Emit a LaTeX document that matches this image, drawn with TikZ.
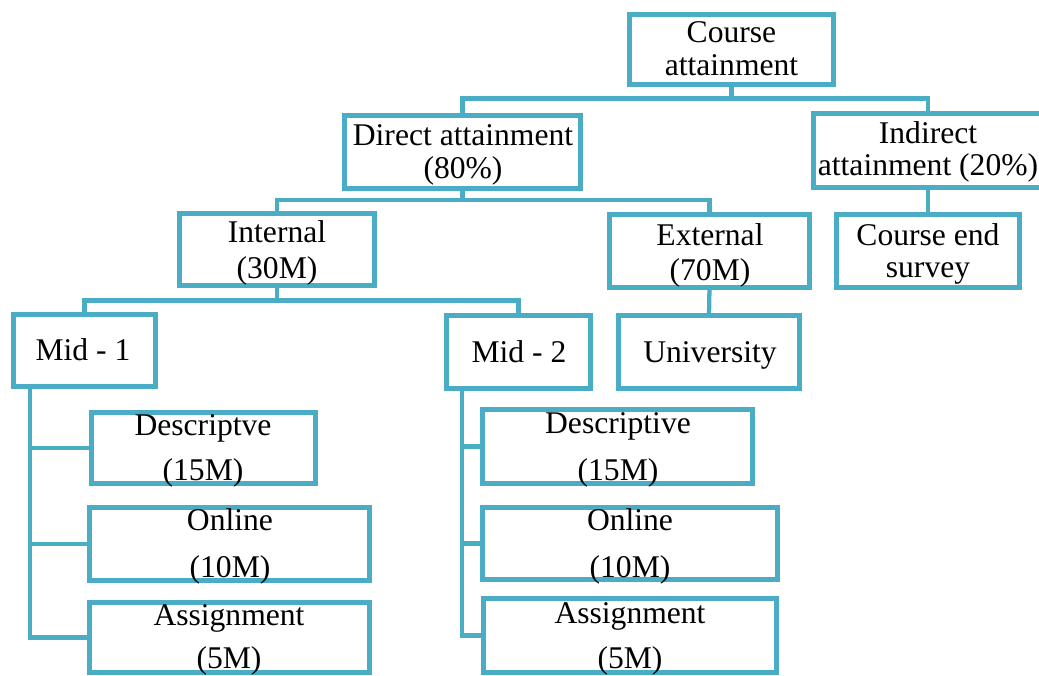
\documentclass[tikz,border=0pt]{standalone}
\usepackage{fontspec}
\setmainfont{Liberation Serif}
\usetikzlibrary{calc}
\definecolor{aqua}{RGB}{75,172,198}
\tikzset{
  box/.style 2 args={draw=aqua, line width=3.75pt, fill=white, inner sep=0pt, outer sep=0pt,
     minimum width=#1*0.75pt, minimum height=#2*0.75pt},
  txt/.style={anchor=base, align=center, inner sep=0pt, font=\fontsize{23.7}{24.75}\selectfont},
  conn/.style={draw=aqua, line width=3.2pt}
}
\begin{document}
\begin{tikzpicture}[x=0.75pt,y=-0.75pt]
\useasboundingbox (0,0) rectangle (1039,675);
% boxes
\node[box={204}{70}] (course) at (731.5,49.5) {};
\node[box={236}{73}] (direct) at (462.5,152) {};
\node[box={229}{74}] (indirect) at (928,150.5) {};
\node[box={195}{72}] (internal) at (277,249.5) {};
\node[box={200}{73}] (external) at (709.5,251) {};
\node[box={183}{73}] (survey) at (928,251) {};
\node[box={142}{72}] (mid1) at (84.5,350.5) {};
\node[box={144}{73}] (mid2) at (518.5,352) {};
\node[box={181}{73}] (univ) at (709,352) {};
\node[box={224}{71}] (desc1) at (203.5,448) {};
\node[box={280}{73}] (online1) at (229.5,544) {};
\node[box={280}{70}] (assign1) at (229.5,637.5) {};
\node[box={270}{74}] (desc2) at (617.5,446.5) {};
\node[box={295}{72}] (online2) at (630,543.5) {};
\node[box={293}{74}] (assign2) at (630,635.5) {};
% connectors
\draw[conn] (course.south) -- ++(0,14) -| (direct.north);
\draw[conn] (course.south) -- ++(0,14) -| (indirect.north);
\draw[conn] (direct.south) -- ++(0,11.5) -| (internal.north);
\draw[conn] (direct.south) -- ++(0,11.5) -| (external.north);
\draw[conn] (indirect.south) -- (survey.north);
\draw[conn] (internal.south) -- ++(0,15) -| (mid1.north);
\draw[conn] (internal.south) -- ++(0,15) -| (mid2.north);
\draw[conn] (external.south) -- (univ.north);
\draw[conn] ($(mid1.south west)+(16.5,0)$) |- (desc1.west);
\draw[conn] ($(mid1.south west)+(16.5,0)$) |- (online1.west);
\draw[conn] ($(mid1.south west)+(16.5,0)$) |- (assign1.west);
\draw[conn] ($(mid2.south west)+(15.5,0)$) |- (desc2.west);
\draw[conn] ($(mid2.south west)+(15.5,0)$) |- (online2.west);
\draw[conn] ($(mid2.south west)+(15.5,0)$) |- (assign2.west);
% texts (anchor = baseline of last line)
\node[txt] (course-t) at (731.5,75) {Course\\attainment};
\node[txt] (direct-t) at (463,178) {Direct attainment\\(80\%)};
\node[txt] (indirect-t) at (928,175) {Indirect\\[-0.75pt]attainment (20\%)};
\node[txt] (internal-t) at (277,278) {Internal\\[2.25pt](30M)};
\node[txt] (external-t) at (710,280) {External\\[1.5pt](70M)};
\node[txt] (survey-t) at (928,277) {Course end\\[-0.75pt]survey};
\node[txt] (mid1-t) at (83,360) {Mid - 1};
\node[txt] (mid2-t) at (519,362) {Mid - 2};
\node[txt] (univ-t) at (710,362) {University};
\node[txt] (desc1-t) at (203,480) {Descriptve\\[9pt](15M)};
\node[txt] (online1-t) at (230,577) {Online\\[10.5pt](10M)};
\node[txt] (assign1-t) at (229,668) {Assignment\\[7.5pt](5M)};
\node[txt] (desc2-t) at (618,480) {Descriptive\\[10.5pt](15M)};
\node[txt] (online2-t) at (630,577) {Online\\[10.5pt](10M)};
\node[txt] (assign2-t) at (630,668) {Assignment\\[9pt](5M)};
\end{tikzpicture}
\end{document}
